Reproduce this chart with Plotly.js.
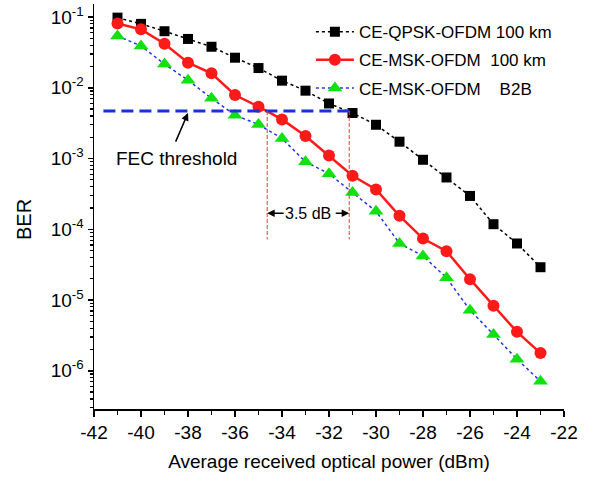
<!DOCTYPE html>
<html>
<head>
<meta charset="utf-8">
<script src="https://cdn.plot.ly/plotly-3.0.1.min.js"></script>
<style>html,body{margin:0;padding:0;background:#fff;}#chart{width:599px;height:485px;}</style>
</head>
<body>
<div id="chart"></div>
<script>
// Received optical power (dBm)
const power = [-41, -40, -39, -38, -37, -36, -35, -34, -33, -32, -31, -30, -29, -28, -27, -26, -25, -24, -23];
// BER series
const berQpsk100 = [0.098, 0.080, 0.063, 0.049, 0.038, 0.0266, 0.019, 0.0126, 0.0091, 0.0060, 0.0044, 0.0030, 0.00173, 0.00096, 0.00054, 0.000296, 0.000118, 0.000063, 0.0000291];
const berMsk100 = [0.081, 0.067, 0.042, 0.0226, 0.016, 0.0079, 0.0054, 0.00357, 0.00208, 0.00110, 0.00057, 0.000365, 0.000155, 0.000074, 0.000049, 0.0000197, 0.0000083, 0.00000355, 0.00000178];
const berMskB2B = [0.054, 0.039, 0.0216, 0.0128, 0.0071, 0.0041, 0.00303, 0.00192, 0.00090, 0.00061, 0.00033, 0.000180, 0.000063, 0.000042, 0.0000206, 0.0000072, 0.00000325, 0.00000146, 0.00000071];
const seriesNames = ["CE-QPSK-OFDM 100 km", "CE-MSK-OFDM\u00A0\u00A0100 km", "CE-MSK-OFDM\u00A0\u00A0\u00A0\u00A0B2B"];
// FEC threshold and the two powers where curves cross it
const fecBer = 0.0047;
const fecSpan = [-41.6, -31.1];
const crossPowers = [-34.63, -31.14];
const crossBottom = 0.000072;
const gainLabel = "3.5 dB";
const fecLabel = "FEC threshold";
// Tick labels
const xTicks = [-42, -40, -38, -36, -34, -32, -30, -28, -26, -24, -22];
const xTickText = ["-42", "-40", "-38", "-36", "-34", "-32", "-30", "-28", "-26", "-24", "-22"];
const xMinor = [-41, -39, -37, -35, -33, -31, -29, -27, -25, -23];
const yExp = [-6, -5, -4, -3, -2, -1];
const yTickText = ["10<sup>-6</sup>", "10<sup>-5</sup>", "10<sup>-4</sup>", "10<sup>-3</sup>", "10<sup>-2</sup>", "10<sup>-1</sup>"];
const xTitle = "Average received optical power (dBm)";
const yTitle = "BER";

const yTickVals = yExp.map(e => Math.pow(10, e));
const yMinor = [];
for (let e = -7; e <= 0; e++) for (let m = 2; m <= 9; m++) yMinor.push(m * Math.pow(10, e));

const FONT = "Arial, 'Liberation Sans', Helvetica, sans-serif";

const traces = [
  {x: power, y: berQpsk100, name: seriesNames[0], legendgroup: "a", mode: "lines+markers",
   line: {color: "#000000", width: 1.5, dash: "dot"},
   marker: {symbol: "square", size: 10, color: "#000000"}},
  {x: power, y: berMsk100, name: seriesNames[1], legendgroup: "b", mode: "lines+markers",
   line: {color: "#ff1a1a", width: 2.5},
   marker: {symbol: "circle", size: 12, color: "#ff1a1a"}},
  {x: power, y: berMskB2B, name: seriesNames[2], legendgroup: "c", mode: "lines+markers",
   line: {color: "#2233ee", width: 1.5, dash: "dot"},
   marker: {symbol: "triangle-up", size: 13, color: "#11e011"}},
  {x: fecSpan, y: [fecBer, fecBer], mode: "lines", showlegend: false, hoverinfo: "skip",
   line: {color: "#1a2fe0", width: 3, dash: "12px,6px"}},
  {x: [crossPowers[0], crossPowers[0]], y: [fecBer, crossBottom], mode: "lines", showlegend: false, hoverinfo: "skip",
   line: {color: "#ff3333", width: 1, dash: "4px,2px"}},
  {x: [crossPowers[1], crossPowers[1]], y: [fecBer, crossBottom], mode: "lines", showlegend: false, hoverinfo: "skip",
   line: {color: "#ff3333", width: 1, dash: "4px,2px"}}
];

const gainY = -3.772;
const midX = (crossPowers[0] + crossPowers[1]) / 2;
const layout = {
  width: 599, height: 485,
  margin: {l: 94, r: 35, t: 4, b: 76},
  paper_bgcolor: "#ffffff", plot_bgcolor: "#ffffff",
  font: {family: FONT, color: "#000000"},
  showlegend: true,
  legend: {x: 0.4615, y: 0.975, xanchor: "left", yanchor: "top", bgcolor: "rgba(0,0,0,0)",
           borderwidth: 0, font: {family: FONT, size: 17}, itemwidth: 38,
           traceorder: "grouped", tracegroupgap: 3},
  xaxis: {range: [-42, -22], tickmode: "array", tickvals: xTicks, ticktext: xTickText, ticks: "outside", ticklen: 6, tickwidth: 1.5,
          tickcolor: "#000", showline: true, linecolor: "#000", linewidth: 1.5, showgrid: false, zeroline: false,
          tickfont: {size: 19, family: FONT},
          minor: {tickmode: "array", tickvals: xMinor, ticks: "outside", ticklen: 4, tickwidth: 1.2, tickcolor: "#000"},
          title: {text: xTitle, font: {size: 19, family: FONT}, standoff: 12}},
  xaxis2: {overlaying: "x", side: "top", range: [-42, -22], tickmode: "array", tickvals: xTicks, ticks: "inside",
           ticklen: 5, tickwidth: 1.5, tickcolor: "#000", showticklabels: false, showline: true, linecolor: "#000",
           linewidth: 1.5, showgrid: false, zeroline: false,
           minor: {tickmode: "array", tickvals: xMinor, ticks: "inside", ticklen: 3, tickwidth: 1.2, tickcolor: "#000"}},
  yaxis: {type: "log", range: [-6.54, -0.816], tickmode: "array", tickvals: yTickVals, ticktext: yTickText,
          ticks: "outside", ticklen: 5, tickwidth: 1.5, tickcolor: "#000", showline: true, linecolor: "#000",
          linewidth: 1.5, showgrid: false, zeroline: false, tickfont: {size: 19, family: FONT},
          minor: {tickmode: "array", tickvals: yMinor, ticks: "outside", ticklen: 3, tickwidth: 1.2, tickcolor: "#000"}},
  yaxis2: {type: "log", overlaying: "y", side: "right", range: [-6.54, -0.816], tickmode: "array", tickvals: yTickVals,
           ticks: "inside", ticklen: 5, tickwidth: 1.5, tickcolor: "#000", showticklabels: false, showline: true,
           linecolor: "#000", linewidth: 1.5, showgrid: false, zeroline: false,
           minor: {tickmode: "array", tickvals: yMinor, ticks: "inside", ticklen: 3, tickwidth: 1.2, tickcolor: "#000"}},
  annotations: [
    {xref: "paper", yref: "paper", x: -0.149, xanchor: "center", y: 0.469, yanchor: "middle",
     text: yTitle, textangle: -90, showarrow: false, font: {size: 20, family: FONT}},
    {x: -38.5, y: -2.994, xref: "x", yref: "y", text: fecLabel, showarrow: false, font: {size: 19, family: FONT}},
    {x: -38.0, y: Math.log10(fecBer) - 0.03, xref: "x", yref: "y", text: "", showarrow: true, ax: -13, ay: 30,
     arrowhead: 2, arrowsize: 1, arrowwidth: 1.5, arrowcolor: "#000"},
    {x: midX, y: gainY, xref: "x", yref: "y", text: gainLabel, showarrow: false, font: {size: 16, family: FONT}},
    {x: crossPowers[0], y: gainY, xref: "x", yref: "y", text: "", showarrow: true, ax: 18, ay: 0,
     arrowhead: 2, arrowsize: 1, arrowwidth: 1.5, arrowcolor: "#000"},
    {x: crossPowers[1], y: gainY, xref: "x", yref: "y", text: "", showarrow: true, ax: -15, ay: 0,
     arrowhead: 2, arrowsize: 1, arrowwidth: 1.5, arrowcolor: "#000"}
  ]
};

Plotly.newPlot("chart", traces, layout, {staticPlot: true, displayModeBar: false});
</script>
</body>
</html>
